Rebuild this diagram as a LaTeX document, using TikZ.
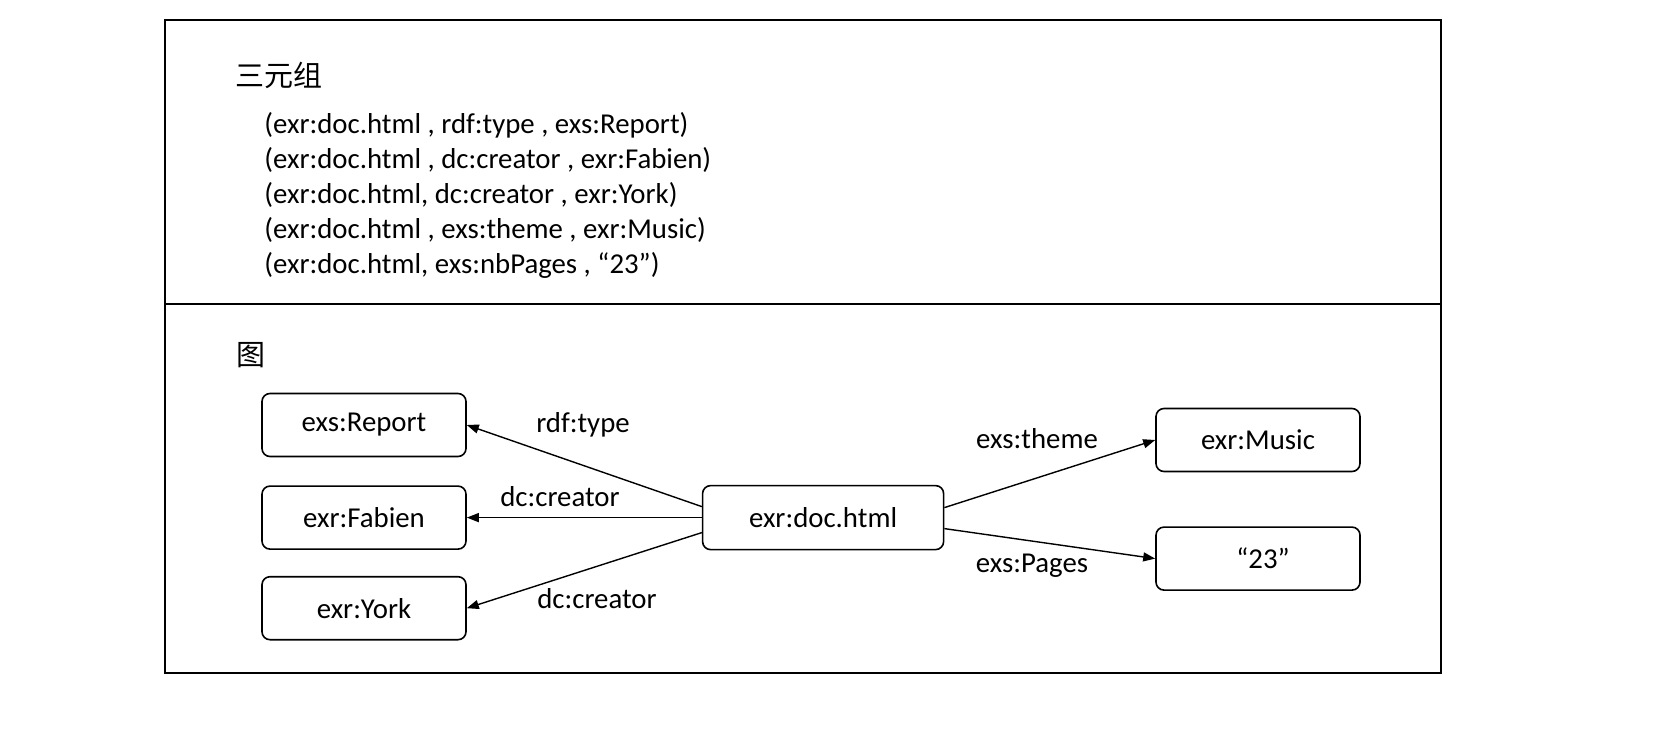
\documentclass[tikz,border=0pt]{standalone}
\usepackage{fontspec}
\setmainfont{Carlito}
\newfontfamily\cjk{Noto Sans CJK SC}
\usetikzlibrary{positioning, arrows.meta, calc}

\begin{document}
\begin{tikzpicture}[
  x=0.5pt, y=-0.5pt,
  every node/.style={font=\fontsize{14.4}{17.5}\selectfont},
  box/.style={draw, rounded corners=4pt, line width=0.8pt, minimum width=102pt, minimum height=31.5pt, inner sep=0pt},
  arr/.style={-{Triangle[length=6pt, width=4.5pt]}, line width=0.7pt},
  hanzi/.style={font=\cjk\fontsize{14.5}{17.5}\selectfont, inner sep=0pt}
]

\useasboundingbox (0,0) rectangle (1655,729);
\draw[line width=0.9pt] (165,20) rectangle (1441,673);
\draw[line width=0.9pt] (165,304) -- (1441,304);

\node[hanzi, anchor=west] (title) at (235,75) {三元组};
\node[anchor=north west, align=left, inner sep=0pt] (triples) at (264,112) {%
  (exr:doc.html , rdf:type , exs:Report)\\
  (exr:doc.html , dc:creator , exr:Fabien)\\
  (exr:doc.html, dc:creator , exr:York)\\
  (exr:doc.html , exs:theme , exr:Music)\\
  (exr:doc.html, exs:nbPages , “23”)};
\node[hanzi, anchor=west] (graph) at (236,355) {图};

\node[box] (report) at (364,425) {exs:Report};
\node[box, below=14pt of report] (fabien) {exr:Fabien};
\node[box, below=13pt of fabien] (york) {exr:York};
\node[box, minimum width=120.5pt, minimum height=32pt, right=117.5pt of fabien] (doc) {exr:doc.html};
\node[box] (music) at (1258,440) {exr:Music\hspace{10pt}};
\node[box, below=27pt of music] (pages) {\hspace{5pt}“23”};

\draw[arr] ($(doc.west)+(0,-11)$) -- (report.east);
\draw[arr] (doc.west) -- (fabien.east);
\draw[arr] ($(doc.west)+(0,15)$) -- (york.east);
\draw[arr] ($(doc.east)+(0,-10)$) -- (music.west);
\draw[arr] ($(doc.east)+(0,11)$) -- (pages.west);

\node (ltype) at (583,425) {rdf:type};
\node (lfabien) at (560,497) {dc:creator};
\node (lyork) at (597,599) {dc:creator};
\node (ltheme) at (1037,439) {exs:theme};
\node (lpages) at (1032,566) {exs:Pages};

\end{tikzpicture}
\end{document}
